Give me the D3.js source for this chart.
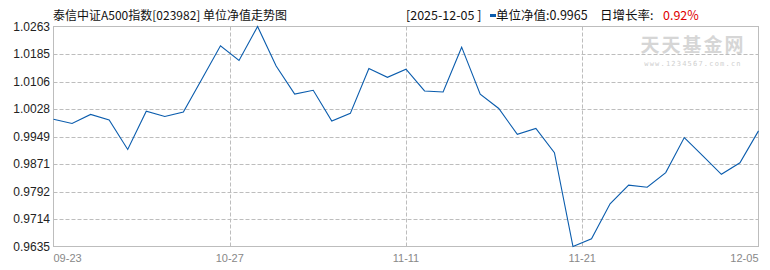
<!DOCTYPE html>
<html><head><meta charset="utf-8">
<script src="https://cdn.jsdelivr.net/npm/d3@7"></script>
<style>
html,body{margin:0;padding:0;background:#fff;}
svg{display:block;}
</style></head>
<body>
<script>
const title = "泰信中证A500指数[023982] 单位净值走势图";
const latestDate = "2025-12-05";
const latestNav = "0.9965";
const latestGrowth = "0.92%";
const xTickLabels = ["09-23", "10-27", "11-11", "11-21", "12-05"];
const yTickLabels = ["0.9635","0.9714","0.9792","0.9871","0.9949","1.0028","1.0106","1.0185","1.0263"];
const navValues = [
  0.9998, 0.9986, 1.0012, 0.9996, 0.9912, 1.0021, 1.0006, 1.0019, 1.0113, 1.0208,
  1.0166, 1.0263, 1.0150, 1.0070, 1.0081, 0.9993, 1.0015, 1.0143, 1.0118, 1.0141,
  1.0079, 1.0076, 1.0204, 1.0070, 1.0029, 0.9955, 0.9972, 0.9903, 0.9635, 0.9657,
  0.9757, 0.9810, 0.9804, 0.9846, 0.9946, 0.9894, 0.9841, 0.9874, 0.9965
];

const W = 770, H = 270;
const L = 53.5, R = 758.5, T = 26.5, B = 246.5;
const svg = d3.select("body").append("svg").attr("width", W).attr("height", H);

const yVals = yTickLabels.map(Number);
const x = d3.scaleLinear().domain([0, navValues.length - 1]).range([L, R]);
const y = d3.scaleLinear().domain([d3.min(yVals), d3.max(yVals)]).range([B, T]);

const cjk = "'Noto Sans CJK SC', 'Noto Sans', sans-serif";
const gridColor = "#bdbdbd";

// horizontal grid
svg.append("g").selectAll("line").data(yVals.slice(1, -1)).join("line")
  .attr("x1", L).attr("x2", R)
  .attr("y1", d => Math.round(y(d)) + 0.5).attr("y2", d => Math.round(y(d)) + 0.5)
  .attr("stroke", gridColor).attr("stroke-dasharray", "4,2");

// vertical grid at inner ticks
const n = navValues.length - 1;
const xTickPos = xTickLabels.map((_, i) => i * n / (xTickLabels.length - 1));
svg.append("g").selectAll("line").data(xTickPos.slice(1, -1)).join("line")
  .attr("x1", d => Math.round(x(d)) + 0.5).attr("x2", d => Math.round(x(d)) + 0.5)
  .attr("y1", T).attr("y2", B)
  .attr("stroke", gridColor).attr("stroke-dasharray", "4,2");

// watermark
svg.append("text").attr("x", 693).attr("y", 52).attr("text-anchor", "middle")
  .attr("font-family", cjk).attr("font-size", 19).attr("font-weight", "bold")
  .attr("fill", "#d6d6d6").attr("letter-spacing", 2).text("天天基金网");
svg.append("text").attr("x", 693).attr("y", 66).attr("text-anchor", "middle")
  .attr("font-family", "'DejaVu Sans Mono', monospace").attr("font-size", 7)
  .attr("fill", "#cfcfcf").attr("letter-spacing", 1.2).text("www.1234567.com.cn");

// border
svg.append("rect").attr("x", L).attr("y", T).attr("width", R - L).attr("height", B - T)
  .attr("fill", "none").attr("stroke", gridColor);

// line
const line = d3.line().x((d, i) => x(i)).y(d => y(d));
svg.append("path").datum(navValues).attr("d", line)
  .attr("fill", "none").attr("stroke", "#0a5cad").attr("stroke-width", 1.1);

// y labels
svg.append("g").selectAll("text").data(yTickLabels).join("text")
  .attr("x", 50).attr("y", d => y(+d) + 4.5).attr("text-anchor", "end")
  .attr("font-family", "'Liberation Sans', Arial, sans-serif").attr("font-size", 12)
  .attr("fill", "#222").text(d => d);

// x labels
svg.append("g").selectAll("text").data(xTickLabels).join("text")
  .attr("x", (d, i) => x(xTickPos[i]))
  .attr("y", 262)
  .attr("text-anchor", (d, i) => i === 0 ? "start" : (i === xTickLabels.length - 1 ? "end" : "middle"))
  .attr("font-family", "'Liberation Sans', Arial, sans-serif").attr("font-size", 11)
  .attr("fill", "#888").text(d => d);

// title
svg.append("text").attr("x", 53).attr("y", 20).attr("font-family", cjk).attr("font-size", 12)
  .attr("fill", "#111").text(title);

// header right
svg.append("text").attr("x", 406).attr("y", 20).attr("font-family", cjk).attr("font-size", 12.5)
  .attr("fill", "#111").text("[" + latestDate + " ]");
svg.append("rect").attr("x", 490).attr("y", 14).attr("width", 6).attr("height", 3).attr("fill", "#0a5cad");
svg.append("text").attr("x", 496).attr("y", 20).attr("font-family", cjk).attr("font-size", 12.5)
  .attr("fill", "#111").text("单位净值:" + latestNav);
svg.append("text").attr("x", 600).attr("y", 20).attr("font-family", cjk).attr("font-size", 12.5)
  .attr("fill", "#111").text("日增长率:");
svg.append("text").attr("x", 663).attr("y", 20).attr("font-family", cjk).attr("font-size", 12.5)
  .attr("fill", "#e00000").text(latestGrowth);
</script>
</body></html>
